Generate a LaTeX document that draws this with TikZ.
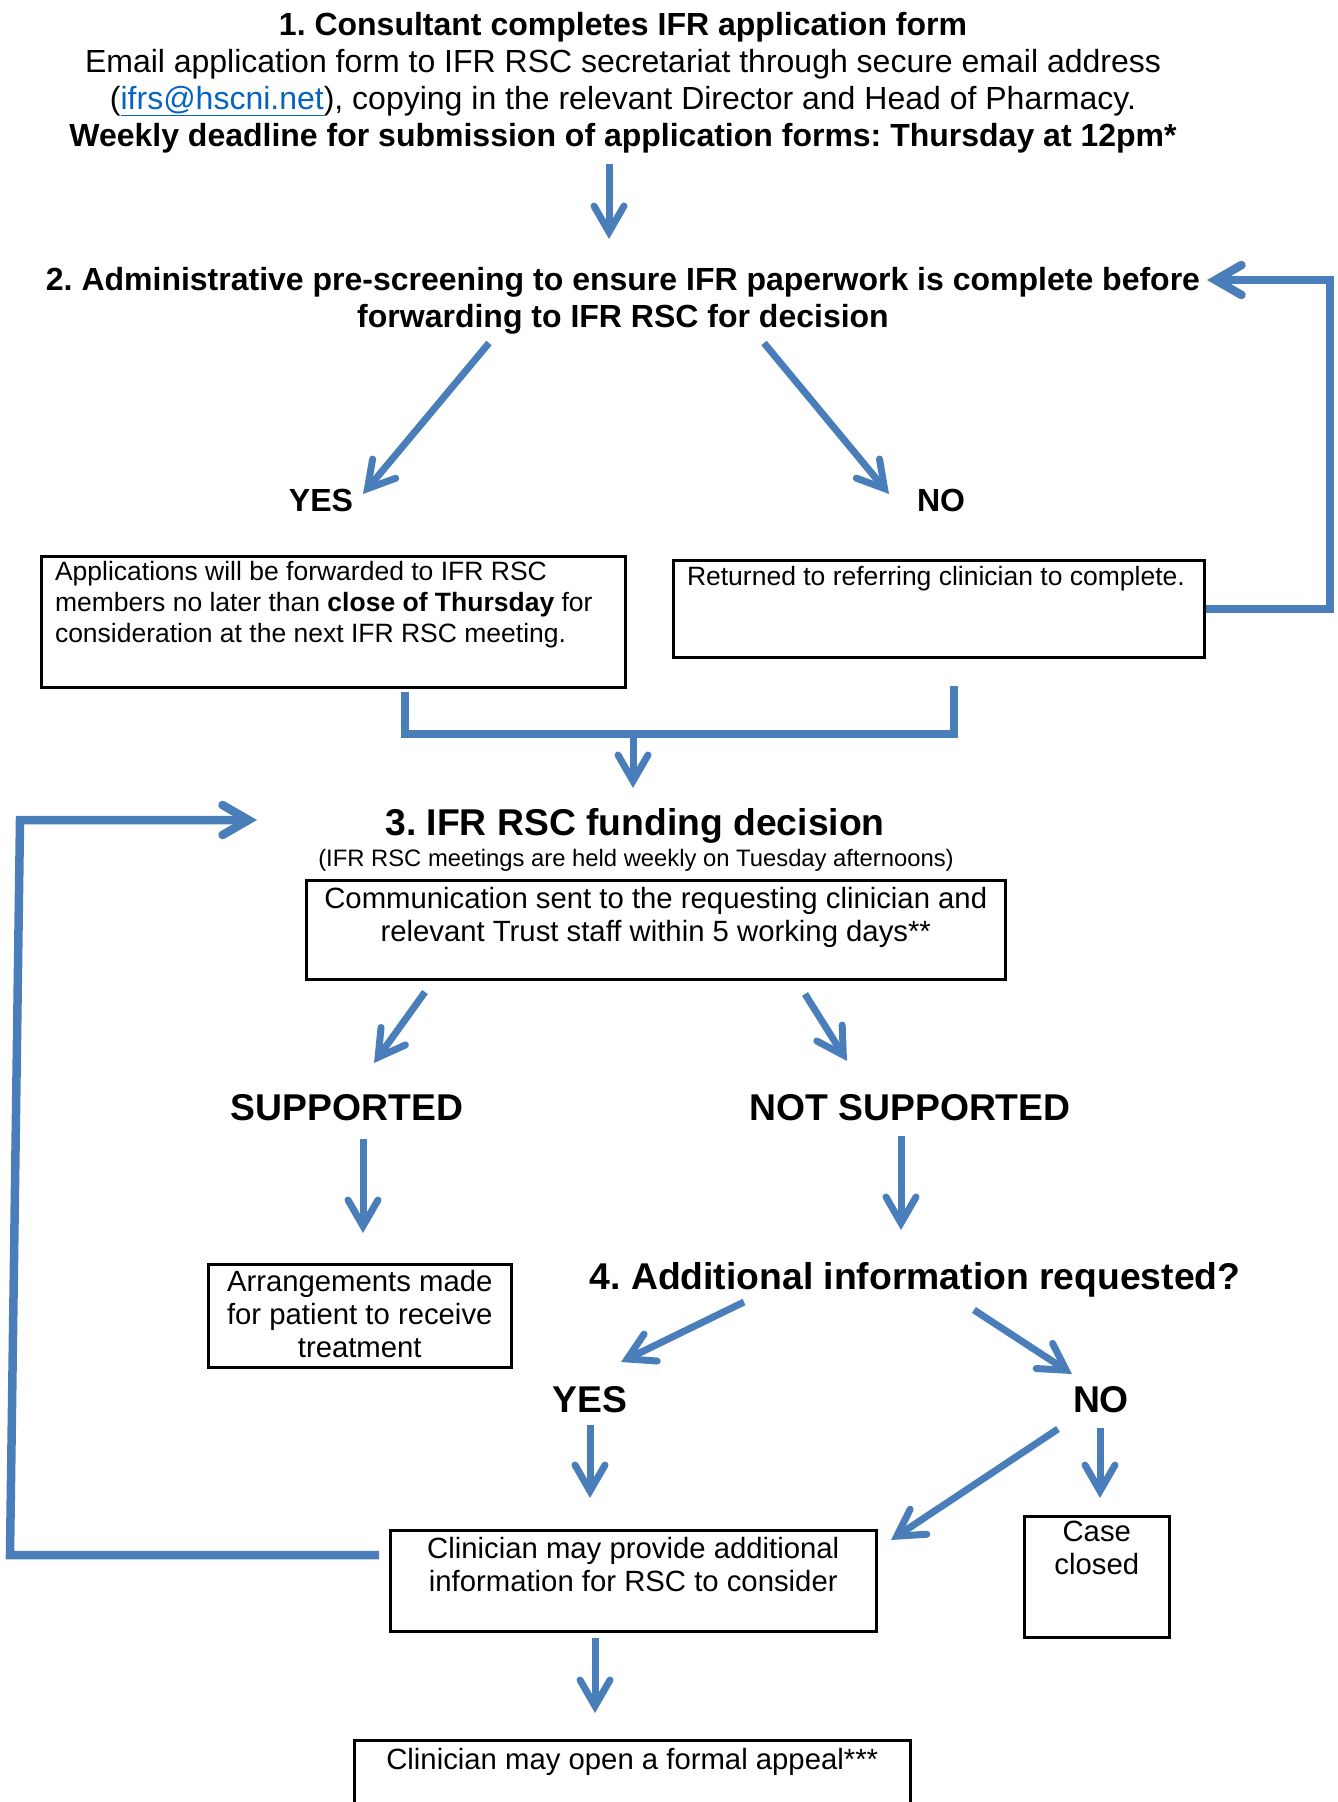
\documentclass[tikz,border=0pt]{standalone}
\usepackage{fontspec}
\setmainfont{Liberation Sans}
\usetikzlibrary{calc}
\usetikzlibrary{arrows.meta}
\frenchspacing
\definecolor{ifr-blue}{RGB}{74, 126, 187}
\definecolor{link-blue}{RGB}{5, 99, 193}
\newcommand{\topfont}{\fontsize{32}{37}\selectfont}
\newcommand{\boxfont}{\fontsize{26.5}{31}\selectfont}
\newcommand{\midfont}{\fontsize{29.3}{33}\selectfont}
\newcommand{\bigfont}{\fontsize{37.3}{44}\selectfont}
\newcommand{\smallfont}{\fontsize{23.8}{27}\selectfont}
\tikzset{
  tip/.tip={Straight Barb[length=26pt, width=30pt, line cap=round, line join=miter]},
  flow/.style={draw=ifr-blue, line width=7pt, -tip},
  loopline/.style={draw=ifr-blue, line width=8.5pt},
  box/.style={draw=black, line width=2.5pt, inner sep=0pt, anchor=north west},
  txt/.style={inner sep=0pt, outer sep=0pt},
}

\begin{document}
\begin{tikzpicture}[x=1pt, y=-1pt]
\useasboundingbox (0,0) rectangle (1338,1802);
\clip (0,0) rectangle (1338,1802);

% step 1
\node[txt, anchor=north, align=center, font=\topfont] (s1) at (623,12)
  {\textbf{1. Consultant completes IFR application form}\\
   Email application form to IFR RSC secretariat through secure email address\\
   (\textcolor{link-blue}{\underline{ifrs@hscni.net}}), copying in the relevant Director and Head of Pharmacy.\\
   \textbf{Weekly deadline for submission of application forms: Thursday at 12pm*}};

% step 2
\node[txt, anchor=north, align=center, font=\topfont\bfseries] (s2) at (623,267)
  {2. Administrative pre-screening to ensure IFR paperwork is complete before\\
   forwarding to IFR RSC for decision};
\node[txt, anchor=base, font=\topfont\bfseries] (yes1) at (321,511) {YES};
\node[txt, anchor=base, font=\topfont\bfseries] (no1) at (941,511) {NO};

\node[box, minimum width=584pt, minimum height=131pt] (fwd) at (40,555) {};
\node[txt, anchor=north west, align=left, font=\boxfont] (fwdtxt) at ($(fwd.north west)+(15,6)$)
  {Applications will be forwarded to IFR RSC\\
   members no later than \textbf{close of Thursday} for\\
   consideration at the next IFR RSC meeting.};
\node[box, minimum width=531pt, minimum height=97pt] (ret) at (672,559) {};
\node[txt, anchor=north west, font=\boxfont] (rettxt) at ($(ret.north west)+(15,7)$)
  {Returned to referring clinician to complete.};

% step 3
\node[txt, anchor=base, font=\bigfont\bfseries] (s3) at (635,835) {3. IFR RSC funding decision};
\node[txt, anchor=base, font=\smallfont] (meet) at (636,866) {(IFR RSC meetings are held weekly on Tuesday afternoons)};
\node[box, minimum width=699pt, minimum height=99pt] (comm) at (305,879) {};
\node[txt, anchor=north, align=center, font=\midfont] (commtxt) at ($(comm.north)+(0,8)$)
  {Communication sent to the requesting clinician and\\
   relevant Trust staff within 5 working days**};

\node[txt, anchor=base, font=\bigfont\bfseries] (sup) at (347,1120) {SUPPORTED};
\node[txt, anchor=base, font=\bigfont\bfseries] (nsup) at (910,1120) {NOT SUPPORTED};
\node[box, minimum width=303pt, minimum height=103pt] (arr) at (207,1263) {};
\node[txt, anchor=north, align=center, font=\midfont] (arrtxt) at ($(arr.north)+(0,7)$)
  {Arrangements made\\ for patient to receive\\ treatment};

% step 4
\node[txt, anchor=base, font=\bigfont\bfseries] (s4) at (915,1289) {4. Additional information requested?};
\node[txt, anchor=base, font=\bigfont\bfseries] (yes2) at (590,1412) {YES};
\node[txt, anchor=base, font=\bigfont\bfseries] (no2) at (1101,1412) {NO};
\node[box, minimum width=486pt, minimum height=101pt] (clin) at (389,1529) {};
\node[txt, anchor=north, align=center, font=\midfont] (clintxt) at ($(clin.north)+(0,8)$)
  {Clinician may provide additional\\ information for RSC to consider};
\node[box, minimum width=145pt, minimum height=121pt] (case) at (1023,1515) {};
\node[txt, anchor=north, align=center, font=\midfont] (casetxt) at ($(case.north)+(0,6)$)
  {Case\\ closed};
\node[box, minimum width=556pt, minimum height=90pt] (appeal) at (353,1739) {};
\node[txt, anchor=north, font=\midfont] (appealtxt) at ($(appeal.north)+(0,9)$)
  {Clinician may open a formal appeal***};

% arrow ends
\coordinate (a1s) at (609,164);  \coordinate (a1e) at (609,239);
\coordinate (a2ls) at (489,343); \coordinate (a2le) at (363,494);
\coordinate (a2rs) at (764,343); \coordinate (a2re) at (889,494);
\coordinate (loopR) at (1330,280); \coordinate (s2in) at (1207,280);
\coordinate (fwdout) at (405,692); \coordinate (retout) at (954,686);
\coordinate (mL) at (405,734); \coordinate (mR) at (954,734);
\coordinate (mid) at (633,734); \coordinate (s3top) at (633,788);
\coordinate (clinout) at (379,1555); \coordinate (loopLb) at (10,1555);
\coordinate (loopLt) at (20,820); \coordinate (s3in) at (257,820);
\coordinate (a3ls) at (425,992); \coordinate (a3le) at (374,1063);
\coordinate (a3rs) at (805,994); \coordinate (a3re) at (847,1061);
\coordinate (aSs) at (363,1139); \coordinate (aSe) at (363,1233);
\coordinate (aNs) at (901,1136); \coordinate (aNe) at (901,1230);
\coordinate (a4ls) at (744,1302); \coordinate (a4le) at (621,1362);
\coordinate (a4rs) at (974,1310); \coordinate (a4re) at (1072,1374);
\coordinate (aYs) at (590,1425); \coordinate (aYe) at (590,1498);
\coordinate (aNos) at (1100,1428); \coordinate (aNoe) at (1100,1498);
\coordinate (aNds) at (1058,1429); \coordinate (aNde) at (891,1540);
\coordinate (aCs) at (595,1638); \coordinate (aCe) at (595,1713);

\draw[flow] (a1s) -- (a1e);
\draw[flow] (a2ls) -- (a2le);
\draw[flow] (a2rs) -- (a2re);
\draw[loopline, -tip] (ret.east) -| (loopR) -- (s2in);
\draw[loopline] (fwdout) -- (mL) -- (mR) -- (retout);
\draw[flow] (mid) -- (s3top);
\draw[loopline, -tip] (clinout) -- (loopLb) -- (loopLt) -- (s3in);
\draw[flow] (a3ls) -- (a3le);
\draw[flow] (a3rs) -- (a3re);
\draw[flow] (aSs) -- (aSe);
\draw[flow] (aNs) -- (aNe);
\draw[flow] (a4ls) -- (a4le);
\draw[flow] (a4rs) -- (a4re);
\draw[flow] (aYs) -- (aYe);
\draw[flow] (aNos) -- (aNoe);
\draw[flow] (aNds) -- (aNde);
\draw[flow] (aCs) -- (aCe);
\end{tikzpicture}
\end{document}
